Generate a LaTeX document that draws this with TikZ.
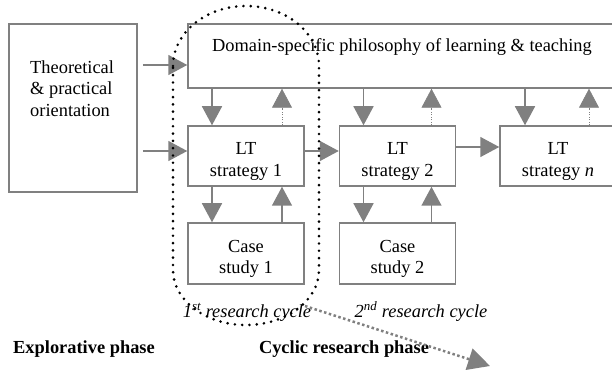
\documentclass[tikz,border=0pt]{standalone}
\usepackage{fontspec}
\setmainfont{Liberation Serif}
\usetikzlibrary{arrows.meta,positioning}
\definecolor{linegray}{RGB}{128,128,128}
\newcommand{\boxgap}{\rule{0pt}{23pt}}

\begin{document}
\begin{tikzpicture}[x=1pt,y=1pt,on grid,
  font=\fontsize{18.4}{21.5}\selectfont,
  box/.style={draw=linegray,line width=1.5pt,minimum width=116pt,minimum height=60pt,inner sep=0pt,align=center},
  arr/.style={draw=linegray,line width=1.5pt,-{Triangle[length=19pt,width=20pt]}},
  darr/.style={draw=linegray,line width=0.7pt,dash pattern=on 1pt off 1.5pt,-{Triangle[length=19pt,width=20pt]}},
  cycleline/.style={line width=2.9pt,line cap=round,dash pattern=on 0pt off 7.3pt},
  phasearr/.style={draw=linegray,line width=2.5pt,dash pattern=on 2.5pt off 2.5pt,-{Triangle[length=22pt,width=22pt]}},
  lbl/.style={inner sep=0pt,anchor=base}]
  \useasboundingbox (0,0) rectangle (612,-371);
  \clip (0,0) rectangle (612,-371);
  % boxes
  \node[box,minimum width=128pt,minimum height=168pt] (theo) at (73,-108) {};
  \node[lbl,anchor=north west,align=left] (theolbl) at (30,-60.5) {Theoretical\\ \& practical\\ orientation};
  \node[box,minimum width=428pt,minimum height=64pt] (domain) at (402,-56) {};
  \node[lbl] (domainlbl) at (402,-52) {Domain-specific philosophy of learning \& teaching};
  \node[box] (lt1) at (246,-156) {\boxgap LT\\strategy 1};
  \node[box] (lt2) [right=151.5pt of lt1] {\boxgap LT\\strategy 2};
  \node[box] (ltn) [right=160.5pt of lt2] {\boxgap LT\\strategy \textit{n}};
  \node[box,minimum height=61pt] (cs1) [below=97.5pt of lt1] {\boxgap Case\\study 1};
  \node[box,minimum height=61pt] (cs2) [below=97.5pt of lt2] {\boxgap Case\\study 2};
  % arrows
  \draw[arr] ([xshift=5pt,yshift=-9pt]theo.east |- domain.west) -- ([yshift=-9pt]domain.west);
  \draw[arr] ([xshift=5pt,yshift=5pt]theo.east |- lt1.west) -- ([yshift=5pt]lt1.west);
  \draw[arr] ([yshift=5pt]lt1.east) -- ([yshift=5pt]lt2.west);
  \draw[arr] ([yshift=9pt]lt2.east) -- ([yshift=9pt]ltn.west);
  \draw[arr] ([xshift=-34pt]lt1.north |- domain.south) -- ([xshift=-34pt]lt1.north);
  \draw[darr] ([xshift=36pt]lt1.north) -- ([xshift=36pt]lt1.north |- domain.south);
  \draw[arr] ([xshift=-34pt]lt2.north |- domain.south) -- ([xshift=-34pt]lt2.north);
  \draw[darr] ([xshift=34pt]lt2.north) -- ([xshift=34pt]lt2.north |- domain.south);
  \draw[arr] ([xshift=-33pt]ltn.north |- domain.south) -- ([xshift=-33pt]ltn.north);
  \draw[darr] ([xshift=31pt]ltn.north) -- ([xshift=31pt]ltn.north |- domain.south);
  \draw[arr] ([xshift=-34pt]lt1.south) -- ([xshift=-34pt]cs1.north);
  \draw[arr] ([xshift=36pt]cs1.north) -- ([xshift=36pt]lt1.south);
  \draw[arr] ([xshift=-34pt]lt2.south) -- ([xshift=-34pt]cs2.north);
  \draw[arr] ([xshift=34pt]cs2.north) -- ([xshift=34pt]lt2.south);
  % phase labels
  \node[lbl] (cycle1) at (247,-317) {\textit{1\textsuperscript{st} research cycle}};
  \node[lbl] (cycle2) at (421,-317) {\textit{2\textsuperscript{nd} research cycle}};
  \node[lbl] (explore) at (84,-353) {\textbf{Explorative phase}};
  \node[lbl] (cyclic) at (344,-353) {\textbf{Cyclic research phase}};
  % first cycle
  \draw[cycleline] (173,-66) arc[start angle=180,end angle=0,x radius=73,y radius=60]
    -- (319,-270) arc[start angle=0,end angle=-180,x radius=73,y radius=55] -- cycle;
  \coordinate (phasefrom) at (305,-306);
  \coordinate (phaseto) at (490,-366);
  \draw[phasearr] (phasefrom) -- (phaseto);
\end{tikzpicture}
\end{document}
